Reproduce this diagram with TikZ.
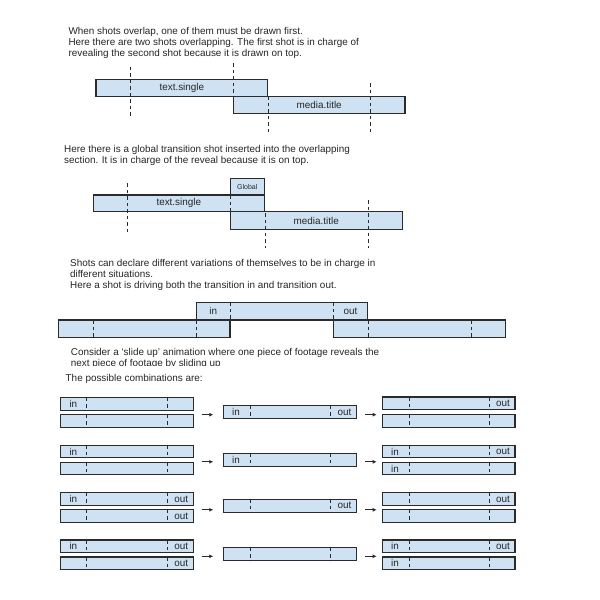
\documentclass[tikz,border=0pt]{standalone}
\usepackage{fontspec}
\setmainfont{Liberation Sans}
\usetikzlibrary{arrows.meta}
\definecolor{shotblue}{HTML}{CFE2F3}
\definecolor{edge}{HTML}{2B2B2B}
\definecolor{ink}{HTML}{262626}
\newcommand\fs{\fontsize{9.9}{11.3}\selectfont}
\newcommand\fsmall{\fontsize{7}{8}\selectfont}
\tikzset{
 shot/.style={draw=edge, fill=shotblue, line width=1.2pt, inner sep=0pt, text=ink, font=\fs},
 cut/.style={draw=edge, line width=0.9pt, dash pattern=on 3.5pt off 3pt},
 txt/.style={anchor=base west, inner sep=0pt, text=ink, font=\fs},
 lbl/.style={inner sep=0pt, text=ink, font=\fs},
 flow/.style={draw=edge, line width=1pt, -{Latex[length=4pt,width=4pt]}},
}
% name, x1, y1, x2, y2, text
\newcommand\shotbox[6]{%
 \pgfmathsetmacro\sbw{#4-#2}\pgfmathsetmacro\sbh{#5-#3}%
 \pgfmathsetmacro\sbx{(#2+#4)/2}\pgfmathsetmacro\sby{(#3+#5)/2}%
 \node[shot, minimum width=\sbw pt, minimum height=\sbh pt] (#1) at (\sbx,\sby) {#6};}
% combo box: name, x1, y1, x2, y2, dash1, dash2
\newcommand\combox[7]{%
 \shotbox{#1}{#2}{#3}{#4}{#5}{}%
 \draw[cut] (#6,#3) -- (#6,#5);
 \draw[cut] (#7,#3) -- (#7,#5);}
\newcommand\inlbl[1]{\node[lbl] at ([xshift=13.3pt]#1.west) {in};}
\newcommand\outlbl[1]{\node[lbl] at ([xshift=-12.7pt]#1.east) {out};}
\begin{document}
\begin{tikzpicture}[x=1pt,y=-1pt]
\useasboundingbox[fill=white] (0,0) rectangle (600,600);

% ---- section 1
\node[txt] (p1a) at (68.3,34) {When shots overlap, one of them must be drawn first.};
\node[txt] (p1b) at (68.3,45.5) {Here there are two shots overlapping. The first shot is in charge of};
\node[txt] (p1c) at (68.3,56.8) {revealing the second shot because it is drawn on top.};
\shotbox{ts1}{96}{79.5}{267.7}{96.3}{text.single}
\shotbox{mt1}{233.3}{96.3}{405}{113.5}{media.title}
\draw[cut] (130,66.7) -- (130,116.7);
\draw[cut] (233.3,63.3) -- (233.3,96.3);
\draw[cut] (268,96.3) -- (268,133.3);
\draw[cut] (370.7,83.3) -- (370.7,133.3);

% ---- section 2
\node[txt] (p2a) at (64,152.7) {Here there is a global transition shot inserted into the overlapping};
\node[txt] (p2b) at (64,163.6) {section. It is in charge of the reveal because it is on top.};
\shotbox{gl}{230.3}{178.3}{264.3}{195}{}
\node[lbl, font=\fsmall] (gllbl) at (gl.center) {Global};
\shotbox{ts2}{93.3}{195}{264.3}{211.7}{text.single}
\shotbox{mt2}{230.3}{211.7}{402.3}{229.3}{media.title}
\draw[cut] (127.3,183.3) -- (127.3,233.3);
\draw[cut] (230.3,195) -- (230.3,211.7);
\draw[cut] (265,213) -- (265,248);
\draw[cut] (368.3,200) -- (368.3,248);

% ---- section 3
\node[txt] (p3a) at (70,266) {Shots can declare different variations of themselves to be in charge in};
\node[txt] (p3b) at (70,277) {different situations.};
\node[txt] (p3c) at (70,288.4) {Here a shot is driving both the transition in and transition out.};
\shotbox{top3}{196.7}{302.3}{367.7}{320}{}
\shotbox{bl3}{58.3}{320}{230}{337.3}{}
\shotbox{br3}{333.3}{320}{505.7}{337.3}{}
\draw[cut] (230,302.3) -- (230,320);
\draw[cut] (333.3,302.3) -- (333.3,320);
\draw[cut] (93.3,320) -- (93.3,337.3);
\draw[cut] (196.7,320) -- (196.7,337.3);
\draw[cut] (368.3,320) -- (368.3,337.3);
\draw[cut] (471.7,320) -- (471.7,337.3);
\node[lbl] (in3) at (213.3,311.2) {in};
\node[lbl] (out3) at (350.5,311.2) {out};

% ---- section 4
\node[txt] (p4a) at (70.7,355.2) {Consider a ‘slide up’ animation where one piece of footage reveals the};
\begin{scope}
\clip (60,357) rectangle (420,365.3);
\node[txt] (p4b) at (70.7,366.5) {next piece of footage by sliding up};
\end{scope}
\node[txt] (p4c) at (65.5,381.3) {The possible combinations are:};

% row 1
\combox{l1t}{60.7}{397.7}{193.3}{410.4}{86.7}{167.3}
\combox{l1b}{60.7}{414.7}{193.3}{427.4}{86.7}{167.3}
\combox{m1}{223.3}{405.7}{356.7}{418.7}{250.7}{330}
\combox{r1t}{382.3}{397}{515}{409.7}{409.3}{489.3}
\combox{r1b}{382.3}{414.7}{515}{427.4}{409.3}{489.3}
\inlbl{l1t} \inlbl{m1} \outlbl{m1} \outlbl{r1t}
\coordinate (a1s) at (201.7,414.7); \coordinate (a1e) at (213.3,414.7);
\coordinate (b1s) at (365,414.7); \coordinate (b1e) at (376.7,414.7);
\draw[flow] (a1s) -- (a1e); \draw[flow] (b1s) -- (b1e);

% row 2
\combox{l2t}{60.7}{445.1}{193.3}{457.8}{86.7}{167.3}
\combox{l2b}{60.7}{462.1}{193.3}{474.8}{86.7}{167.3}
\combox{m2}{223.3}{453.1}{356.7}{466.1}{250.7}{330}
\combox{r2t}{382.3}{445.1}{515}{457.8}{409.3}{489.3}
\combox{r2b}{382.3}{462.1}{515}{474.8}{409.3}{489.3}
\inlbl{l2t} \inlbl{m2} \inlbl{r2t} \outlbl{r2t} \inlbl{r2b}
\coordinate (a2s) at (201.7,461.8); \coordinate (a2e) at (213.3,461.8);
\coordinate (b2s) at (365,461.8); \coordinate (b2e) at (376.7,461.8);
\draw[flow] (a2s) -- (a2e); \draw[flow] (b2s) -- (b2e);

% row 3
\combox{l3t}{60.7}{492.5}{193.3}{505.2}{86.7}{167.3}
\combox{l3b}{60.7}{509.8}{193.3}{522.5}{86.7}{167.3}
\combox{m3}{223.3}{499.2}{356.7}{512.2}{250.7}{330}
\combox{r3t}{382.3}{492.5}{515}{505.2}{409.3}{489.3}
\combox{r3b}{382.3}{509.8}{515}{522.5}{409.3}{489.3}
\inlbl{l3t} \outlbl{l3t} \outlbl{l3b} \outlbl{m3} \outlbl{r3t}
\coordinate (a3s) at (201.7,509.8); \coordinate (a3e) at (213.3,509.8);
\coordinate (b3s) at (365,509.8); \coordinate (b3e) at (376.7,509.8);
\draw[flow] (a3s) -- (a3e); \draw[flow] (b3s) -- (b3e);

% row 4
\combox{l4t}{60.7}{540}{193.3}{552.7}{86.7}{167.3}
\combox{l4b}{60.7}{557}{193.3}{569.7}{86.7}{167.3}
\combox{m4}{223.3}{547.5}{356.7}{560.5}{250.7}{330}
\combox{r4t}{382.3}{540}{515}{552.7}{409.3}{489.3}
\combox{r4b}{382.3}{557}{515}{569.7}{409.3}{489.3}
\inlbl{l4t} \outlbl{l4t} \outlbl{l4b} \inlbl{r4t} \outlbl{r4t} \inlbl{r4b}
\coordinate (a4s) at (201.7,556.3); \coordinate (a4e) at (213.3,556.3);
\coordinate (b4s) at (365,556.3); \coordinate (b4e) at (376.7,556.3);
\draw[flow] (a4s) -- (a4e); \draw[flow] (b4s) -- (b4e);
\end{tikzpicture}
\end{document}
